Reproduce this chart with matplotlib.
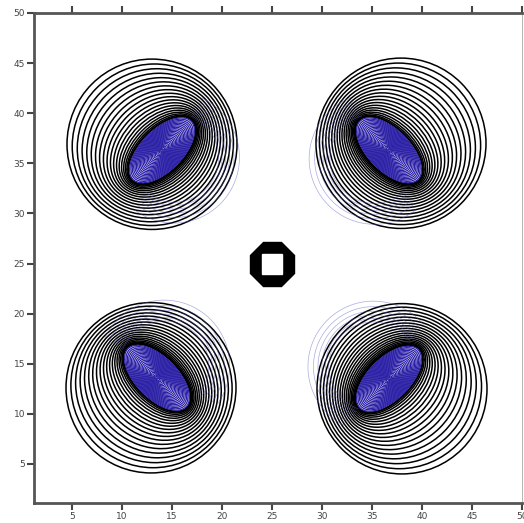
import numpy as np
import matplotlib
matplotlib.use("Agg")
import matplotlib.pyplot as plt
from matplotlib.patches import Ellipse

# ---- data ----
core_x = [14.0, 36.7, 13.5, 36.7]      # centres of the blue cores
core_y = [36.3, 36.3, 13.6, 13.5]
core_angle = [45, -45, -45, 45]        # direction of core's long axis (deg)
halo_x = [13.0, 37.9, 12.9, 38.0]      # centres of the outermost black contours
halo_y = [36.9, 37.0, 12.6, 12.5]
ring_x = [25.0]
ring_y = [25.0]
ticks = [5, 10, 15, 20, 25, 30, 35, 40, 45, 50]
tick_labels = ["5", "10", "15", "20", "25", "30", "35", "40", "45", "50"]

# contour-shape parameters
core_a, core_b = 4.1, 2.05     # semi-axes of the blue core
outer_r = 8.5                  # radius of the outermost black contour
n_black = 20
n_blue = 24
faint_sigma = 3.3

fig = plt.figure(figsize=(5.24, 5.23), dpi=100)
fig.patch.set_facecolor("white")
ax = fig.add_axes([34 / 524, 20 / 523, 488 / 524, 490 / 523])

# faint blue arcs on the side facing the plot centre (contours of a weak field)
xs = np.linspace(1, 50, 400)
X, Y = np.meshgrid(xs, xs)
B = np.full_like(X, np.nan)
for cx, cy, hx, hy in zip(core_x, core_y, halo_x, halo_y):
    vx, vy = cx - hx, cy - hy
    fx, fy = cx + 1.2 * vx, cy + 1.2 * vy
    g = np.exp(-((X - fx)**2 + (Y - fy)**2) / (2 * faint_sigma**2))
    dx, dy = X - cx, Y - cy
    inner = (dx * vx + dy * vy) > 0.8
    near = (dx**2 + dy**2) < 100
    B = np.where(inner & near, g, B)
ax.contour(X, Y, np.ma.masked_invalid(B), levels=np.linspace(0.14, 0.4, 6),
           colors="#5a55c0", linewidths=0.5, alpha=0.5)

# black contours: ellipses that morph from the core shape to a circle
w = (np.arange(n_black) / (n_black - 1))**1.6
for cx, cy, ang, hx, hy in zip(core_x, core_y, core_angle, halo_x, halo_y):
    for wk in w:
        a = core_a + 0.12 + (outer_r - core_a - 0.12) * wk
        b = core_b + 0.12 + (outer_r - core_b - 0.12) * wk
        ex = cx + (hx - cx) * wk
        ey = cy + (hy - cy) * wk
        ax.add_patch(Ellipse((ex, ey), 2 * a, 2 * b, angle=ang, fill=False,
                             edgecolor="black", linewidth=1.1))
    # blue contours inside the core
    for f in np.linspace(0.04, 1.0, n_blue):
        ax.add_patch(Ellipse((cx, cy), 2 * core_a * f, 2 * core_b * f, angle=ang,
                             fill=False, edgecolor="#2b20a6", linewidth=0.9))

# central octagonal ring
ax.plot(ring_x, ring_y, marker="8", markersize=35, color="black", linestyle="none")
ax.plot(ring_x, ring_y, marker="s", markersize=14.5, color="white", linestyle="none")

ax.set_xlim(1.2, 50)
ax.set_ylim(1.1, 50)
ax.set_xticks(ticks)
ax.set_xticklabels(tick_labels)
ax.set_yticks(ticks)
ax.set_yticklabels(tick_labels)

for s_ in ["left", "bottom", "top"]:
    ax.spines[s_].set_linewidth(2)
    ax.spines[s_].set_color("#555555")
ax.spines["right"].set_linewidth(0.6)
ax.spines["right"].set_color("#aaaaaa")

ax.tick_params(axis="x", direction="out", length=5, width=1.5, colors="#444444",
               labelsize=6.5, top=True, pad=1.5)
ax.tick_params(axis="y", direction="out", length=5, width=1.5, colors="#444444",
               labelsize=6.5, pad=1.5)

fig.savefig("out.png", dpi=100, facecolor="white")
